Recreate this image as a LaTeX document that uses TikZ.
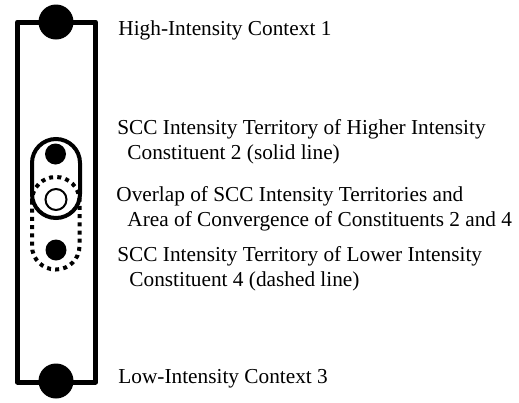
\documentclass[tikz,border=0pt]{standalone}
\usepackage{fontspec}
\setmainfont{Liberation Serif}
\usepackage{tikz}
\newcommand{\sizebigdot}{17.5pt}
\newcommand{\sizesmalldot}{10.5pt}
\newcommand{\labelfont}{\fontsize{10.65pt}{12.5pt}\selectfont}
\tikzset{
    frame/.style={draw, line width=2.5pt, line join=round},
    bigdot/.style={circle, fill, inner sep=0pt, minimum size=\sizebigdot},
    smalldot/.style={circle, fill, inner sep=0pt, minimum size=\sizesmalldot},
    opendot/.style={circle, draw, line width=1pt, inner sep=0pt, minimum size=10.5pt},
    solidterr/.style={draw, line width=2pt, rounded corners=12pt},
    dashedterr/.style={draw, line width=2pt, rounded corners=11.75pt, dash pattern=on 2pt off 2.1pt},
    label/.style={anchor=base west, inner sep=0pt, align=left, font=\labelfont}
}
\begin{document}
\begin{tikzpicture}[x=0.5pt, y=-0.5pt]
    \useasboundingbox (0,0) rectangle (519,402);
    \draw[frame] (17.5,22) rectangle (95.5,382);
    \node[bigdot] (ctxhighdot) at (56,22) {};
    \node[bigdot] (ctxlowdot) at (56,381) {};

    \draw[dashedterr] (32,177) rectangle (79.5,269.5);
    \draw[solidterr] (32,139) rectangle (80,218);
    \node[smalldot] (c2dot) at (55.5,154) {};
    \node[smalldot] (c4dot) at (56,250) {};
    \node[opendot] (overlapdot) at (56,199.5) {};

    \node[label] (ctxhigh) at (118,35) {High-Intensity Context 1};
    \node[label] (terrhigh) at (117,159)
        {SCC Intensity Territory of Higher Intensity\\\hspace*{5pt}Constituent 2 (solid line)};
    \node[label] (overlap) at (116,226)
        {Overlap of SCC Intensity Territories and\\\hspace*{5.5pt}Area of Convergence of Constituents 2 and 4};
    \node[label] (terrlow) at (117,286)
        {SCC Intensity Territory of Lower Intensity\\\hspace*{6pt}Constituent 4 (dashed line)};
    \node[label] (ctxlow) at (118,383) {Low-Intensity Context 3};
\end{tikzpicture}
\end{document}
